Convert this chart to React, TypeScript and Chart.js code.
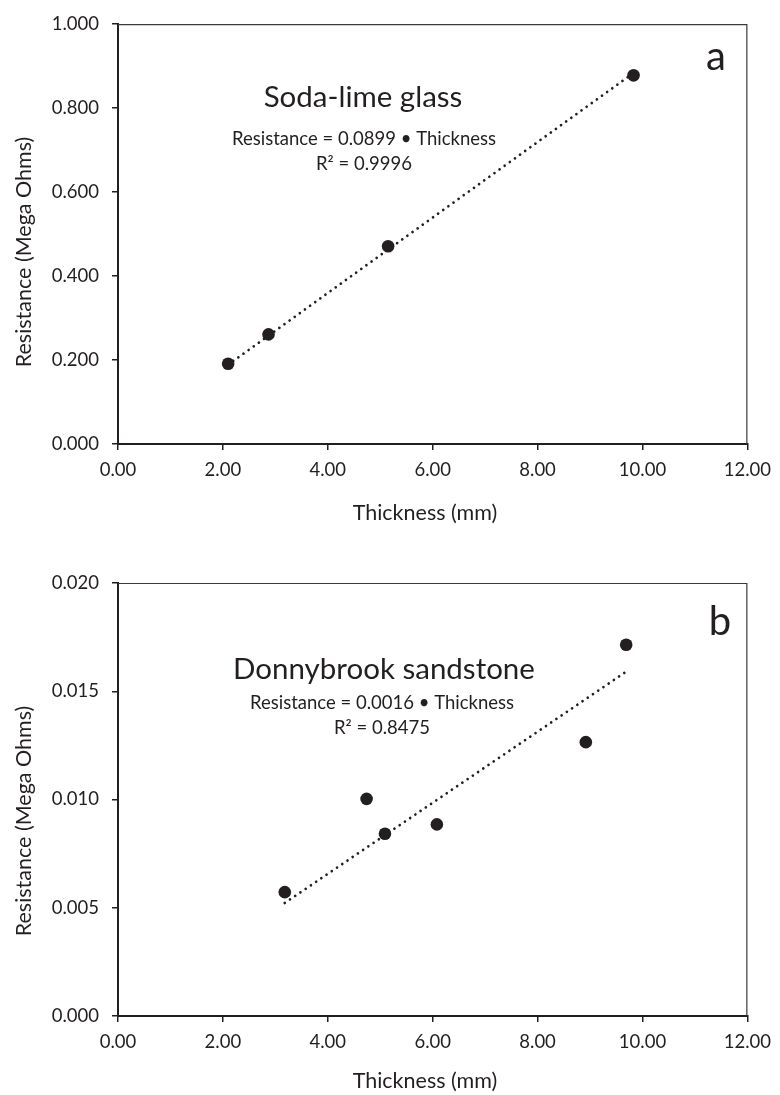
import React, { useEffect, useRef } from "react";
import { Chart, registerables } from "chart.js";
Chart.register(...registerables);

// ---------- data ----------
const xTickValues = [0, 2, 4, 6, 8, 10, 12];
const xTickLabels = ["0.00", "2.00", "4.00", "6.00", "8.00", "10.00", "12.00"];

const glassThickness = [2.1, 2.87, 5.15, 9.83];
const glassResistance = [0.191, 0.261, 0.471, 0.878];
const glassYTickValues = [0, 0.2, 0.4, 0.6, 0.8, 1.0];
const glassYTickLabels = ["0.000", "0.200", "0.400", "0.600", "0.800", "1.000"];

const sandThickness = [3.18, 4.74, 5.09, 6.08, 8.92, 9.69];
const sandResistance = [0.00572, 0.01003, 0.00842, 0.00885, 0.01265, 0.01715];
const sandYTickValues = [0, 0.005, 0.01, 0.015, 0.02];
const sandYTickLabels = ["0.000", "0.005", "0.010", "0.015", "0.020"];

const xTitle = "Thickness (mm)";
const yTitle = "Resistance (Mega Ohms)";

// ---------- styles ----------
const FONT = "Lato, 'Open Sans', sans-serif";
const INK = "#231f20";
const W = 780;
const TICK_SIZE = 18.5;
const EQ_SIZE = 18.5;
const AXIS_TITLE_SIZE = 21.5;
const PANEL_TITLE_SIZE = 29.5;

function fitThroughOrigin(xs: number[], ys: number[]) {
  let sxy = 0, sxx = 0;
  xs.forEach((x, i) => { sxy += x * ys[i]; sxx += x * x; });
  return sxy / sxx;
}

type Txt = { text: string; x: number; y: number; size: number; rot?: boolean; base?: CanvasTextBaseline };

const annotate = {
  id: "annotate",
  afterDraw(chart: any, _a: any, opts: any) {
    const ctx = chart.ctx;
    const ca = chart.chartArea;
    ctx.save();
    ctx.strokeStyle = "#3a3a3a";
    ctx.lineWidth = 1.2;
    ctx.beginPath();
    ctx.moveTo(ca.left, ca.top + 0.5);
    ctx.lineTo(ca.right - 0.5, ca.top + 0.5);
    ctx.lineTo(ca.right - 0.5, ca.bottom);
    ctx.stroke();
    ctx.fillStyle = INK;
    (opts.items as Txt[]).forEach((t) => {
      ctx.save();
      ctx.font = `${t.size}px ${FONT}`;
      ctx.textAlign = "center";
      ctx.textBaseline = t.base || "alphabetic";
      ctx.translate(t.x, t.y);
      if (t.rot) ctx.rotate(-Math.PI / 2);
      ctx.fillText(t.text, 0, 0);
      ctx.restore();
    });
    ctx.restore();
  },
};

type PanelProps = {
  top: number;
  height: number;
  areaTop: number;
  areaBottom: number;
  xs: number[];
  ys: number[];
  yTicks: number[];
  yLabels: string[];
  yMax: number;
  items: Txt[];
};

function Panel(p: PanelProps) {
  const ref = useRef<HTMLCanvasElement>(null);
  useEffect(() => {
    const slope = fitThroughOrigin(p.xs, p.ys);
    const xmin = Math.min(...p.xs);
    const xmax = Math.max(...p.xs);
    const chart = new Chart(ref.current!, {
      type: "scatter",
      data: {
        datasets: [
          {
            data: p.xs.map((x, i) => ({ x, y: p.ys[i] })),
            backgroundColor: INK,
            borderColor: INK,
            pointRadius: 6.3,
            pointHoverRadius: 6.3,
            pointBorderWidth: 0,
            order: 0,
          },
          {
            type: "line",
            data: [
              { x: xmin, y: slope * xmin },
              { x: xmax, y: slope * xmax },
            ],
            borderColor: INK,
            borderWidth: 2.7,
            borderDash: [0.01, 6.3],
            borderCapStyle: "round",
            pointRadius: 0,
            fill: false,
            order: 1,
          } as any,
        ],
      },
      options: {
        animation: false,
        responsive: false,
        maintainAspectRatio: false,
        devicePixelRatio: 1,
        layout: { padding: { left: 0, right: W - 754, top: p.areaTop, bottom: 0 } },
        plugins: {
          legend: { display: false },
          tooltip: { enabled: false },
          annotate: { items: p.items },
        } as any,
        scales: {
          x: {
            type: "linear",
            min: 0,
            max: 12,
            afterBuildTicks: (s: any) => { s.ticks = xTickValues.map((v) => ({ value: v })); },
            afterFit: (s: any) => { s.height = p.height - p.areaBottom; },
            ticks: {
              callback: (_v: any, i: number) => xTickLabels[i],
              font: { family: FONT, size: TICK_SIZE },
              color: INK,
              padding: 9,
              maxRotation: 0,
            },
            grid: { drawOnChartArea: false, drawTicks: true, tickLength: 6, color: INK, lineWidth: 1.5 },
            border: { color: INK, width: 2 },
          },
          y: {
            type: "linear",
            min: 0,
            max: p.yMax,
            afterBuildTicks: (s: any) => { s.ticks = p.yTicks.map((v) => ({ value: v })); },
            afterFit: (s: any) => { s.width = 118; },
            ticks: {
              callback: (_v: any, i: number) => p.yLabels[i],
              font: { family: FONT, size: TICK_SIZE },
              color: INK,
              padding: 13,
            },
            grid: { drawOnChartArea: false, drawTicks: true, tickLength: 6, color: INK, lineWidth: 1.5 },
            border: { color: INK, width: 2 },
          },
        },
      },
      plugins: [annotate],
    });
    return () => chart.destroy();
  }, []);
  return (
    <canvas
      ref={ref}
      width={W}
      height={p.height}
      style={{ position: "absolute", left: 0, top: p.top, width: W, height: p.height, display: "block" }}
    />
  );
}

export default function App() {
  return (
    <div style={{ position: "absolute", left: 0, top: 0, width: W, height: 1095, background: "#fff" }}>
      <Panel
        top={0}
        height={540}
        areaTop={17}
        areaBottom={444}
        xs={glassThickness}
        ys={glassResistance}
        yTicks={glassYTickValues}
        yLabels={glassYTickLabels}
        yMax={1.0}
        items={[
          { text: "Soda-lime glass", x: 363, y: 107, size: PANEL_TITLE_SIZE },
          { text: "Resistance = 0.0899 • Thickness", x: 364, y: 145, size: EQ_SIZE },
          { text: "R² = 0.9996", x: 364, y: 170, size: EQ_SIZE },
          { text: "a", x: 716, y: 70, size: 40 },
          { text: xTitle, x: 425, y: 520, size: AXIS_TITLE_SIZE },
          { text: yTitle, x: 24, y: 252, size: AXIS_TITLE_SIZE, rot: true, base: "middle" },
        ]}
      />
      <Panel
        top={540}
        height={555}
        areaTop={43}
        areaBottom={476}
        xs={sandThickness}
        ys={sandResistance}
        yTicks={sandYTickValues}
        yLabels={sandYTickLabels}
        yMax={0.02}
        items={[
          { text: "Donnybrook sandstone", x: 384, y: 139, size: PANEL_TITLE_SIZE },
          { text: "Resistance = 0.0016 • Thickness", x: 382, y: 169, size: EQ_SIZE },
          { text: "R² = 0.8475", x: 382, y: 194, size: EQ_SIZE },
          { text: "b", x: 720, y: 95, size: 40 },
          { text: xTitle, x: 425, y: 548, size: AXIS_TITLE_SIZE },
          { text: yTitle, x: 24, y: 281, size: AXIS_TITLE_SIZE, rot: true, base: "middle" },
        ]}
      />
    </div>
  );
}
